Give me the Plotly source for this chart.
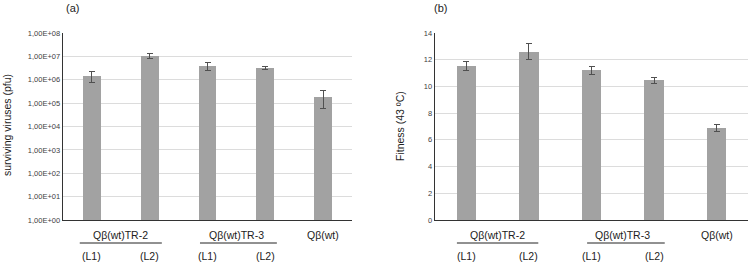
import plotly.graph_objects as go

categories = ["TR2-L1", "TR2-L2", "TR3-L1", "TR3-L2", "wt"]
pfu = [1.45e6, 1.07e7, 3.9e6, 3.2e6, 1.9e5]
pfu_err_plus = [0.85e6, 0.28e7, 1.7e6, 0.4e6, 1.6e5]
pfu_err_minus = [0.67e6, 0.28e7, 1.3e6, 0.4e6, 1.32e5]
fitness = [11.55, 12.6, 11.2, 10.45, 6.9]
fitness_err = [0.35, 0.6, 0.3, 0.2, 0.25]
log_tickvals = [1, 10, 100, 1e3, 1e4, 1e5, 1e6, 1e7, 1e8]
log_ticktext = ["1,00E+00", "1,00E+01", "1,00E+02", "1,00E+03", "1,00E+04",
                "1,00E+05", "1,00E+06", "1,00E+07", "1,00E+08"]
group_labels = ["Qβ(wt)TR-2", "Qβ(wt)TR-3", "Qβ(wt)"]
line_labels = ["(L1)", "(L2)", "(L1)", "(L2)"]

BAR = "#a2a2a2"
ERR = "#505050"
AXIS = "#333333"
FONT = "Liberation Sans, Arial, sans-serif"

fig = go.Figure()
fig.add_trace(go.Bar(
    x=categories, y=pfu, marker=dict(color=BAR, line=dict(width=0)), width=0.31,
    error_y=dict(type="data", array=pfu_err_plus, arrayminus=pfu_err_minus,
                 color=ERR, thickness=1, width=3),
    xaxis="x", yaxis="y", showlegend=False, hoverinfo="skip"))
fig.add_trace(go.Bar(
    x=categories, y=fitness, marker=dict(color=BAR, line=dict(width=0)), width=0.31,
    error_y=dict(type="data", array=fitness_err, color=ERR, thickness=1, width=3),
    xaxis="x2", yaxis="y2", showlegend=False, hoverinfo="skip"))

ydom = [1 - 220 / 263, 1 - 33 / 263]
fig.update_layout(
    width=750, height=263, margin=dict(l=0, r=0, t=0, b=0, pad=0, autoexpand=False),
    paper_bgcolor="white", plot_bgcolor="white",
    font=dict(family=FONT, color="#404040"),
    bargap=0,
    xaxis=dict(domain=[63 / 750, 352 / 750], range=[-0.5, 4.5], showticklabels=False,
               ticks="", showgrid=False, showline=True, linecolor=AXIS, linewidth=1.3,
               anchor="y", automargin=False),
    yaxis=dict(domain=ydom, type="log", range=[0, 8], tickvals=log_tickvals,
               ticktext=log_ticktext, tickfont=dict(size=7.5, color="#404040"),
               showgrid=True, gridcolor="#dcdcdc", gridwidth=1, showline=True,
               linecolor=AXIS, linewidth=1.3, ticks="", anchor="x", zeroline=False,
               automargin=False),
    xaxis2=dict(domain=[435 / 750, 748 / 750], range=[-0.5, 4.5], showticklabels=False,
                ticks="", showgrid=False, showline=True, linecolor=AXIS, linewidth=1.3,
                anchor="y2", automargin=False),
    yaxis2=dict(domain=ydom, range=[0, 14], dtick=2, tickfont=dict(size=7.5, color="#404040"),
                showgrid=True, gridcolor="#dcdcdc", gridwidth=1, showline=True,
                linecolor=AXIS, linewidth=1.3, ticks="", anchor="x2", zeroline=False,
                automargin=False),
)

ann = []
shapes = []
for xa, under in (("x", [(-0.21, 1.21), (1.87, 3.2)]), ("x2", [(-0.15, 1.15), (1.93, 3.17)])):
    for gx, lab in zip([0.5, 2.5, 4], group_labels):
        ann.append(dict(x=gx, y=1 - 235 / 263, xref=xa, yref="paper", text=lab,
                        showarrow=False, font=dict(size=10.5, color="#222"),
                        xanchor="center", yanchor="middle"))
    for lx, lab in zip([0, 1, 2, 3], line_labels):
        ann.append(dict(x=lx, y=1 - 256 / 263, xref=xa, yref="paper", text=lab,
                        showarrow=False, font=dict(size=10.5, color="#222"),
                        xanchor="center", yanchor="middle"))
    for x0, x1 in under:
        shapes.append(dict(type="line", xref=xa, yref="paper", x0=x0, x1=x1,
                           y0=1 - 243 / 263, y1=1 - 243 / 263,
                           line=dict(color="#222", width=1)))

ann.append(dict(x=72 / 750, y=1 - 8 / 263, xref="paper", yref="paper", text="(a)",
                showarrow=False, font=dict(size=11, color="#222"),
                xanchor="center", yanchor="middle"))
ann.append(dict(x=440 / 750, y=1 - 8 / 263, xref="paper", yref="paper", text="(b)",
                showarrow=False, font=dict(size=11, color="#222"),
                xanchor="center", yanchor="middle"))
ann.append(dict(x=7 / 750, y=1 - 125 / 263, xref="paper", yref="paper",
                text="surviving viruses (pfu)", textangle=-90, showarrow=False,
                font=dict(size=10.5, color="#222"), xanchor="center", yanchor="middle"))
ann.append(dict(x=400 / 750, y=1 - 126 / 263, xref="paper", yref="paper",
                text="Fitness (43 ºC)", textangle=-90, showarrow=False,
                font=dict(size=10.5, color="#222"), xanchor="center", yanchor="middle"))
fig.update_layout(annotations=ann, shapes=shapes)

fig.write_html("out.html", config=dict(displayModeBar=False, staticPlot=True),
               post_script="document.body.style.margin='0';document.body.style.overflow='hidden';")
